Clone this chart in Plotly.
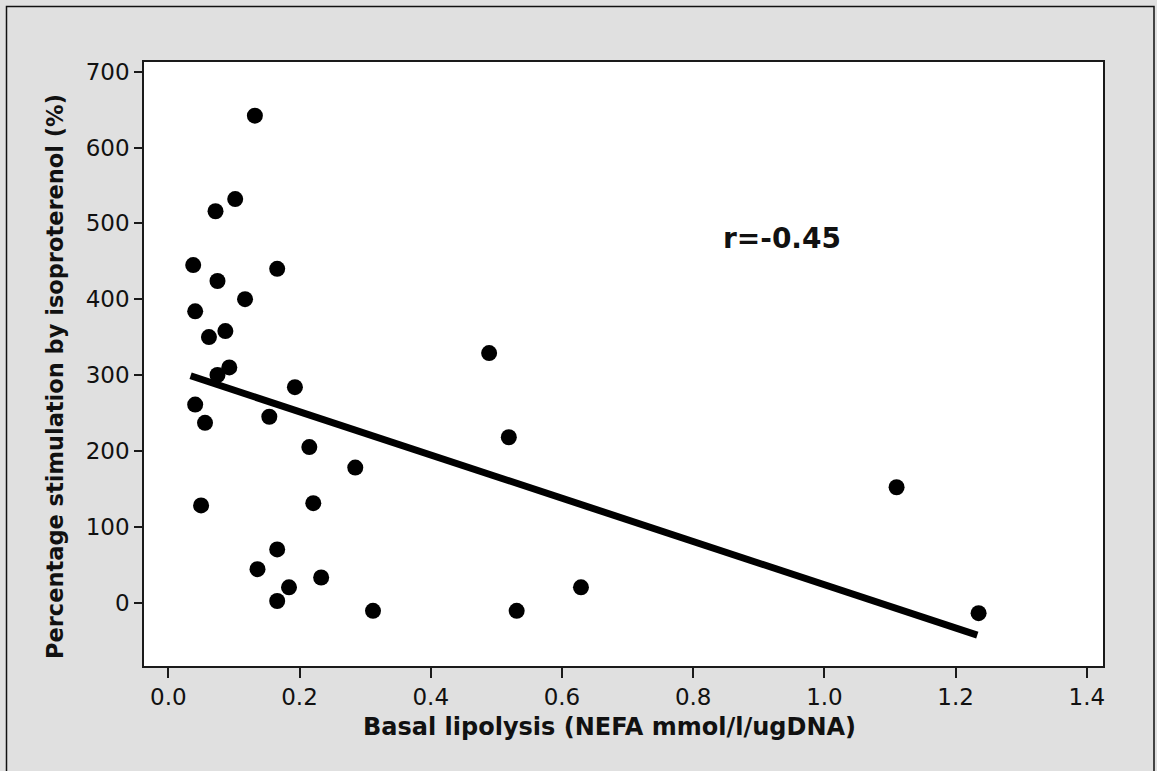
import plotly.graph_objects as go

# Data
basal_lipolysis = [0.132, 0.102, 0.072, 0.038, 0.075, 0.166, 0.117, 0.041, 0.062, 0.087,
                   0.093, 0.075, 0.193, 0.041, 0.056, 0.154, 0.215, 0.285, 0.050, 0.221,
                   0.166, 0.136, 0.233, 0.184, 0.166, 0.312, 0.489, 0.519, 0.531, 0.629,
                   1.110, 1.235]
stimulation_pct = [642, 532, 516, 445, 424, 440, 400, 384, 350, 358,
                   310, 300, 284, 261, 237, 245, 205, 178, 128, 131,
                   70, 44, 33, 20, 2, -11, 329, 218, -11, 20,
                   152, -14]
fit_x = [0.034, 1.233]
fit_y = [299, -43]
x_ticks = [0.0, 0.2, 0.4, 0.6, 0.8, 1.0, 1.2, 1.4]
x_tick_labels = ["0.0", "0.2", "0.4", "0.6", "0.8", "1.0", "1.2", "1.4"]
y_ticks = [0, 100, 200, 300, 400, 500, 600, 700]
y_tick_labels = ["0", "100", "200", "300", "400", "500", "600", "700"]
r_label = "r=-0.45"
x_title = "Basal lipolysis (NEFA mmol/l/ugDNA)"
y_title = "Percentage stimulation by isoproterenol (%)"

W, H = 1157, 771
L, R, T, B = 144, 54, 62, 105
pw, ph = W - L - R, H - T - B

def px(x):
    return (x - L) / pw

def py(y):
    return (H - B - y) / ph

FONT = "DejaVu Sans"

fig = go.Figure()
fig.add_trace(go.Scatter(
    x=fit_x, y=fit_y, mode="lines",
    line=dict(color="black", width=7),
    hoverinfo="skip", showlegend=False))
fig.add_trace(go.Scatter(
    x=basal_lipolysis, y=stimulation_pct, mode="markers",
    marker=dict(color="black", size=16, line=dict(width=0)),
    showlegend=False))

axis_common = dict(
    showline=True, mirror=True, linecolor="#1a1a1a", linewidth=1.5,
    ticks="outside", tickcolor="#1a1a1a", tickwidth=1.5,
    showgrid=False, zeroline=False,
    tickfont=dict(family=FONT, size=23, color="#111"),
)

fig.update_xaxes(range=[-0.037, 1.4246], tickmode="array", tickvals=x_ticks,
                 ticktext=x_tick_labels, ticklen=10, **axis_common)
fig.update_yaxes(range=[-83.7, 712.8], tickmode="array", tickvals=y_ticks,
                 ticktext=y_tick_labels, ticklen=8, **axis_common)

fig.add_annotation(text=x_title, xref="paper", yref="paper",
                   x=px(609), y=py(727), xanchor="center", yanchor="middle",
                   showarrow=False, font=dict(family=FONT, size=24, color="#111", weight="bold"))
fig.add_annotation(text=y_title, xref="paper", yref="paper", textangle=-90,
                   x=px(55), y=py(377), xanchor="center", yanchor="middle",
                   showarrow=False, font=dict(family=FONT, size=22.5, color="#111", weight="bold"))
fig.add_annotation(text=r_label, xref="paper", yref="paper",
                   x=px(782), y=py(238), xanchor="center", yanchor="middle",
                   showarrow=False, font=dict(family=FONT, size=28, color="#111", weight="bold"))

fig.add_shape(type="rect", xref="paper", yref="paper",
              x0=px(6.5), x1=px(1154), y0=py(780), y1=py(6.5),
              line=dict(color="#111", width=1.5), fillcolor="rgba(0,0,0,0)", layer="below")

fig.update_layout(
    width=W, height=H,
    margin=dict(l=L, r=R, t=T, b=B, pad=0),
    paper_bgcolor="#e0e0e0", plot_bgcolor="white",
    font=dict(family=FONT, color="#111"),
    showlegend=False,
)

fig.write_html("out.html")
